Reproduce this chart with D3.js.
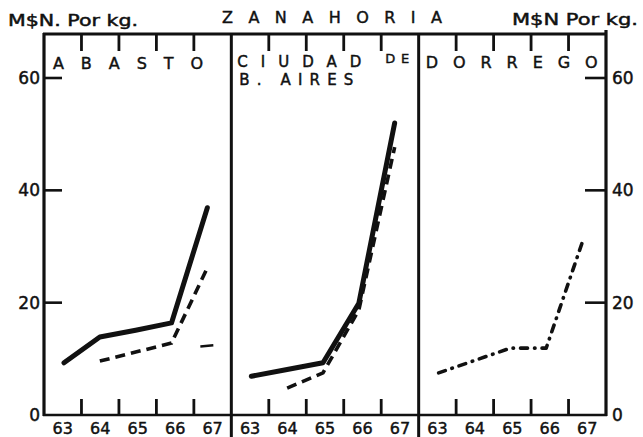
<!DOCTYPE html>
<html>
<head>
<meta charset="utf-8">
<script src="https://cdn.jsdelivr.net/npm/d3@7"></script>
<style>
  body { margin: 0; background: #fff; }
  svg { display: block; }
  text { font-family: "DejaVu Sans", "Liberation Sans", sans-serif; fill: #111; stroke: #111; stroke-width: 0.45; }
</style>
</head>
<body>
<svg id="chart" width="643" height="437"></svg>
<script>
// Carrot prices (M$N per kg), 1963-1967
const years = [63, 64, 65, 66, 67];
const yTicks = [0, 20, 40, 60];
const panelNames = ["ABASTO", "CIUDAD DE B. AIRES", "DORREGO"];

const abastoSolid   = [9.3, 13.9, 15.1, 16.4, 36.9];
const abastoDashed  = [null, 9.6, 11.2, 12.8, 26.2];
const abastoMark    = [null, null, null, null, 12.3];
const ciudadSolid   = [6.9, 8.1, 9.3, 19.9, 52.0];
const ciudadDashed  = [null, 4.8, 7.5, 18.7, 47.7];
const dorregoDashDot = [7.5, 9.7, 11.9, 11.9, 30.6];

const svg = d3.select("#chart");
const ink = "#111";

const frameTop = 34, frameBottom = 415, frameLeft = 44, frameRight = 606;
const y = d3.scaleLinear().domain([0, 60]).range([frameBottom, 78]);
const panelX = d3.scaleBand().domain(panelNames).range([frameLeft, frameRight]).paddingInner(0).paddingOuter(0);

// header texts
svg.append("text").attr("x", 8).attr("y", 26).attr("font-size", 15)
  .attr("textLength", 130).attr("lengthAdjust", "spacingAndGlyphs").text("M$N. Por kg.");
svg.append("text").attr("x", 222).attr("y", 23).attr("font-size", 16)
  .attr("stroke-width", 0.7)
  .attr("textLength", 220).attr("lengthAdjust", "spacing").text("ZANAHORIA");
svg.append("text").attr("x", 512).attr("y", 25).attr("font-size", 15)
  .attr("textLength", 126).attr("lengthAdjust", "spacingAndGlyphs").text("M$N Por kg.");

// frame
const frame = svg.append("g").attr("stroke", ink).attr("fill", "none");
frame.append("line").attr("x1", frameLeft - 1).attr("x2", frameRight + 1).attr("y1", frameTop).attr("y2", frameTop).attr("stroke-width", 2.8);
frame.append("line").attr("x1", frameLeft - 1).attr("x2", frameRight + 1).attr("y1", frameBottom).attr("y2", frameBottom).attr("stroke-width", 2.5);
frame.append("line").attr("x1", frameLeft).attr("x2", frameLeft).attr("y1", frameTop - 1).attr("y2", frameBottom + 1).attr("stroke-width", 3.2);
frame.append("line").attr("x1", frameRight).attr("x2", frameRight).attr("y1", frameTop - 4).attr("y2", frameBottom + 1).attr("stroke-width", 3.2);
panelNames.slice(1).forEach(p => {
  frame.append("line").attr("x1", panelX(p)).attr("x2", panelX(p))
    .attr("y1", frameTop - 1).attr("y2", 437).attr("stroke-width", 3);
});

// y ticks and labels on both sides
yTicks.forEach(v => {
  if (v > 0) {
    frame.append("line").attr("x1", frameLeft).attr("x2", frameLeft + 18).attr("y1", y(v)).attr("y2", y(v)).attr("stroke-width", 2.6);
    frame.append("line").attr("x1", frameRight).attr("x2", frameRight - 21).attr("y1", y(v)).attr("y2", y(v)).attr("stroke-width", 2.6);
  }
  svg.append("text").attr("x", 40).attr("y", y(v) + 6).attr("font-size", 17)
    .attr("text-anchor", "end").text(v);
  svg.append("text").attr("x", 612).attr("y", y(v) + 6).attr("font-size", 17)
    .attr("text-anchor", "start").text(v);
});

// panel labels
const labelLines = {
  "ABASTO": [{ t: "ABASTO", dx: 9, y: 69, len: 150, fs: 16 }],
  "CIUDAD DE B. AIRES": [
    { t: "CIUDAD", dx: 6, y: 67, len: 124, fs: 15 },
    { t: "DE", dx: 154, y: 63, len: 24, fs: 13 },
    { t: "B. AIRES", dx: 8, y: 85, len: 114, fs: 15 }
  ],
  "DORREGO": [{ t: "DORREGO", dx: 7, y: 68, len: 172, fs: 16 }]
};

const series = {
  "ABASTO": [
    { values: abastoSolid, width: 5, dash: null, cap: "round" },
    { values: abastoDashed, width: 3.6, dash: "10,6", cap: "butt" }
  ],
  "CIUDAD DE B. AIRES": [
    { values: ciudadSolid, width: 5, dash: null, cap: "round" },
    { values: ciudadDashed, width: 3.6, dash: "10,6", cap: "butt" }
  ],
  "DORREGO": [
    { values: dorregoDashDot, width: 3.6, dash: "7,7,0.5,7", cap: "round" }
  ]
};

panelNames.forEach(p => {
  const x0 = panelX(p), x1 = x0 + panelX.bandwidth();
  const xb = d3.scaleBand().domain(years).range([x0, x1]);
  const xl = d3.scalePoint().domain(years).range([x0 + 20, x1 - 24]);
  const g = svg.append("g");

  // ticks at year boundaries, top and bottom
  years.slice(1).forEach(yr => {
    const tx = xb(yr);
    g.append("line").attr("x1", tx).attr("x2", tx).attr("y1", frameTop).attr("y2", frameTop + 17)
      .attr("stroke", ink).attr("stroke-width", 2.8);
    g.append("line").attr("x1", tx).attr("x2", tx).attr("y1", frameBottom).attr("y2", frameBottom - 16)
      .attr("stroke", ink).attr("stroke-width", 2.8);
  });

  // year labels
  years.forEach(yr => {
    g.append("text").attr("x", xb(yr) + xb.bandwidth() / 2).attr("y", 434)
      .attr("font-size", 16).attr("text-anchor", "middle").text(yr);
  });

  labelLines[p].forEach(l => {
    g.append("text").attr("x", x0 + l.dx).attr("y", l.y).attr("font-size", l.fs)
      .attr("textLength", l.len).attr("lengthAdjust", "spacing").text(l.t);
  });

  const line = d3.line()
    .defined(d => d.v != null)
    .x(d => xl(d.yr))
    .y(d => y(d.v));

  series[p].forEach(s => {
    g.append("path")
      .datum(years.map((yr, i) => ({ yr, v: s.values[i] })))
      .attr("d", line)
      .attr("fill", "none")
      .attr("stroke", ink)
      .attr("stroke-width", s.width)
      .attr("stroke-linejoin", "round")
      .attr("stroke-linecap", s.cap)
      .attr("stroke-dasharray", s.dash);
  });

  if (p === "ABASTO") {
    years.forEach((yr, i) => {
      if (abastoMark[i] == null) return;
      g.append("line")
        .attr("x1", xl(yr) - 7).attr("x2", xl(yr) + 6)
        .attr("y1", y(abastoMark[i]) + 0.6).attr("y2", y(abastoMark[i]) - 0.6)
        .attr("stroke", ink).attr("stroke-width", 2.4);
    });
  }
});
</script>
</body>
</html>
